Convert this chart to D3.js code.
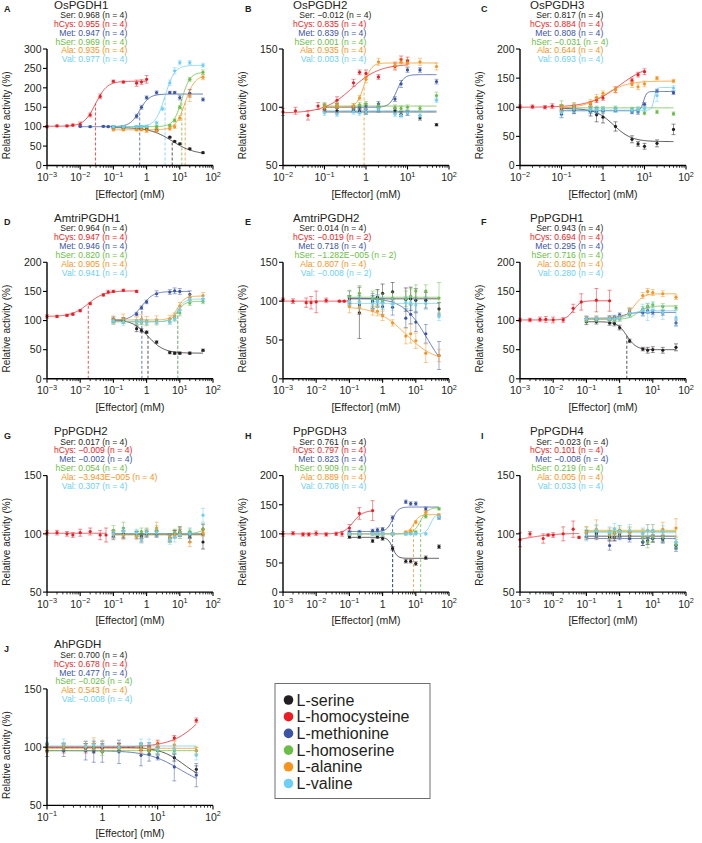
<!DOCTYPE html>
<html><head><meta charset="utf-8">
<script src="https://cdn.jsdelivr.net/npm/d3@7"></script>
<style>
body{margin:0;background:#fff}
svg{display:block}
text{font-family:"Liberation Sans",Arial,Helvetica,sans-serif}
</style>
</head><body>
<svg id="chart" width="702" height="843"></svg>
<script>
// ---------- shared labels ----------
const effectors = ["Ser","hCys","Met","hSer","Ala","Val"];
const legendLabels = ["L-serine","L-homocysteine","L-methionine","L-homoserine","L-alanine","L-valine"];
const colors = ["#231f20","#ed1c24","#3b54a5","#6abd45","#f7941d","#6dcff6"];
const panelLetters = ["A","B","C","D","E","F","G","H","I","J"];
const panelTitles = ["OsPGDH1","OsPGDH2","OsPGDH3","AmtriPGDH1","AmtriPGDH2","PpPGDH1","PpPGDH2","PpPGDH3","PpPGDH4","AhPGDH"];
const xDomains = [[1e-3,1e2],[1e-2,1e2],[1e-2,1e2],[1e-3,1e2],[1e-3,1e2],[1e-3,1e2],[1e-3,1e2],[1e-3,1e2],[1e-3,1e2],[1e-1,1e2]];
const yDomains = [[0,300],[50,150],[0,200],[0,200],[0,150],[0,200],[50,150],[0,200],[50,150],[50,150]];
const yTickValues = [[0,50,100,150,200,250,300],[50,100,150],[0,50,100,150,200],[0,50,100,150,200],[0,50,100,150],[0,50,100,150,200],[50,100,150],[0,50,100,150,200],[50,100,150],[50,100,150]];
const xLabel = "[Effector] (mM)";
const yLabel = "Relative activity (%)";

const concStd = [0.1,0.2,0.5,0.7,1,2,5,7,10,20,50];

// fit parameters: [plateau at low conc, plateau at high conc, EC50 (mM), Hill slope]

// ---------- A: OsPGDH1 ----------
const A_hCysConc = [0.001,0.002,0.004,0.006,0.01,0.02,0.04,0.1,0.2,0.5,0.7,1];
const A_MetConc = [0.01,0.02,0.05,0.07,0.1,0.2,0.5,0.7,1,2,5,7,10,20,50];
const A_ValConc = [0.1,0.2,0.5,0.7,1,2,3,5,7,10,20,50];
const A_conc = [concStd, A_hCysConc, A_MetConc, concStd, concStd, A_ValConc];
const A_y = [
  [98,98,97,97,96,91,73,62,56,43,33],
  [100,102,102,104,106,130,178,217,215,212,215,222],
  [101,100,101,100,100,100,127,150,175,188,188,188,175,186,170],
  [100,100,100,100,100,100,103,116,150,222,240],
  [92,92,92,92,90,90,95,100,122,180,227],
  [100,100,100,100,101,110,146,213,244,265,265,258]];
const A_err = [
  [3,3,3,3,3,3,2,2,2,2,2],
  [3,2,2,3,6,5,6,3,3,8,6,10],
  [2,2,2,2,2,2,5,5,4,4,3,3,6,10,4],
  [3,3,3,3,3,3,3,4,4,5,6],
  [3,3,3,3,5,4,4,5,6,15,6],
  [3,3,3,3,3,4,5,7,8,6,5,5]];
const A_fit = [[98,28,5.9,1.3],[101,217,0.029,2.5],[100,184,0.62,3],[100,240,11.5,3.5],[92,232,14.5,3],[100,258,3.6,3]];
const A_r = ["0.968","0.955","0.947","0.969","0.935","0.977"];
const A_n = [4,4,4,4,4,4];
const A_ec = [1,1,1,1,1,1];

// ---------- B: OsPGDH2 ----------
const B_hCysConc = [0.01,0.02,0.04,0.07,0.1,0.2,0.5,0.7,1,2,5,7,10];
const B_conc = [concStd, B_hCysConc, concStd, concStd, concStd, concStd];
const B_y = [
  [98,97,98,97,96,98,97,94,95,91,85],
  [96,97,93,101,100,106,121,130,129,126,135,141,140],
  [100,101,99,100,101,103,107,120,132,132,122],
  [102,102,101,102,103,101,100,99,100,99,110],
  [100,101,101,108,124,139,136,139,138,139,135],
  [95,94,96,95,96,98,94,93,95,93,106]];
const B_err = [
  [2,2,2,2,2,2,2,2,2,2,1],
  [3,3,4,3,3,3,3,2,3,2,3,3,3],
  [2,2,2,2,2,2,2,3,2,2,2],
  [2,2,2,2,2,2,2,2,2,2,3],
  [2,2,2,2,3,3,3,3,3,3,3],
  [2,2,2,2,2,2,2,2,2,2,2]];
const B_fit = [[96,96,1,1],[95,137,0.45,1.3],[100,128,5.5,5],[101,101,1,1],[100,138,0.9,5],[97,97,1,1]];
const B_r = ["\u22120.012","0.835","0.839","0.001","0.935","0.003"];
const B_n = [4,4,4,4,4,4];
const B_ec = [0,0,0,0,1,0];

// ---------- C: OsPGDH3 ----------
const C_hCysConc = [0.01,0.02,0.04,0.06,0.1,0.2,0.5,0.7,1,2,5,7,10];
const C_conc = [concStd, C_hCysConc, concStd, concStd, concStd, concStd];
const C_y = [
  [98,96,93,87,83,67,45,37,33,38,62],
  [101,101,100,102,100,101,106,112,116,130,146,156,161],
  [88,95,93,92,94,95,92,92,105,128,125],
  [103,100,98,97,97,98,97,96,90,92,89],
  [100,102,107,117,124,130,139,135,140,150,145],
  [91,97,96,96,96,96,95,96,98,120,133]];
const C_err = [
  [6,7,8,12,10,8,6,4,5,6,9],
  [3,3,3,4,3,3,4,4,4,5,4,4,5],
  [6,5,4,4,4,3,3,4,3,3,3],
  [8,7,6,5,4,4,3,3,3,3,3],
  [5,6,6,5,4,5,5,5,5,3,3],
  [8,7,5,5,5,5,4,5,4,10,4]];
const C_fit = [[98,41,1.8,2],[100,175,2.5,1.2],[94,127,9.5,12],[99,99,1,1],[98,145,1.1,1.6],[95,134,17,15]];
const C_r = ["0.817","0.884","0.808","\u22120.031","0.644","0.693"];
const C_n = [4,4,4,4,4,4];
const C_ec = [0,0,0,0,0,0];

// ---------- D: AmtriPGDH1 ----------
const D_hCysConc = [0.001,0.002,0.004,0.006,0.01,0.02,0.05,0.07,0.1,0.2,0.5];
const D_MetConc = [0.1,0.2,0.5,0.7,1,2,5,7,10,20];
const D_conc = [concStd, D_hCysConc, D_MetConc, concStd, concStd, concStd];
const D_y = [
  [102,102,86,83,80,63,45,44,44,44,49],
  [107,107,109,111,117,129,144,149,150,152,150],
  [100,101,111,122,132,146,149,151,150,145],
  [98,98,97,97,97,98,98,104,113,130,133],
  [101,103,100,102,99,101,103,107,125,140,143],
  [99,97,98,98,97,97,98,103,118,136,137]];
const D_err = [
  [4,3,5,3,2,2,2,2,2,2,2],
  [3,2,2,2,2,2,2,3,2,2,2],
  [3,3,3,3,3,5,4,5,5,6],
  [4,3,4,4,4,4,4,4,5,4,4],
  [7,8,6,8,8,7,6,6,6,5,5],
  [5,5,4,5,5,5,4,5,6,5,5]];
const D_fit = [[102,44,1.1,1.8],[107,151,0.0175,1.8],[100,150,0.72,2.5],[98,133,8.7,4],[101,142,8.6,4],[98,137,8.6,4]];
const D_r = ["0.964","0.947","0.946","0.820","0.905","0.941"];
const D_n = [4,4,4,4,4,4];
const D_ec = [1,1,1,1,1,1];

// ---------- E: AmtriPGDH2 ----------
const E_hCysConc = [0.001,0.002,0.005,0.007,0.01,0.02,0.05,0.07,0.1];
const E_conc = [concStd, E_hCysConc, concStd, concStd, concStd, concStd];
const E_y = [
  [101,85,99,105,110,112,102,103,101,101,90],
  [102,100,98,98,99,101,100,100,103],
  [105,95,100,100,93,92,78,83,73,58,30],
  [106,110,103,103,100,104,103,106,113,113,104],
  [93,92,88,87,81,72,55,58,49,33,30],
  [100,98,97,100,97,96,98,98,95,97,80]];
const E_err = [
  [6,33,8,10,12,12,15,15,15,10,8],
  [2,3,6,8,14,3,1,1,4],
  [8,12,10,8,10,10,12,12,12,12,18],
  [8,10,10,10,10,8,10,10,8,8,20],
  [8,8,6,6,6,4,10,12,10,12,8],
  [5,8,8,8,8,8,8,8,8,8,5]];
const E_fit = [[103,103,1,1],[100,100,1,1],[104,0,22,1.2],[105,105,1,1],[93,22,5,1],[97,97,1,1]];
const E_r = ["0.014","\u22120.019","0.718","\u22121.282E\u2212005","0.807","\u22120.008"];
const E_n = [4,2,4,2,4,2];
const E_ec = [0,0,0,0,0,0];

// ---------- F: PpPGDH1 ----------
const F_hCysConc = [0.001,0.002,0.004,0.006,0.01,0.02,0.04,0.07,0.2,0.5];
const F_conc = [concStd, F_hCysConc, concStd, concStd, concStd, concStd];
const F_y = [
  [98,98,96,95,88,65,51,49,50,49,54],
  [101,101,102,102,101,101,121,132,135,134],
  [104,103,105,106,110,117,113,117,114,113,96],
  [100,101,103,101,103,110,120,125,127,124,122],
  [104,104,104,103,105,118,143,150,148,146,140],
  [103,103,103,103,104,113,118,115,118,114,105]];
const F_err = [
  [5,4,4,4,4,3,3,5,5,5,6],
  [3,3,4,5,5,4,7,14,20,18],
  [3,3,3,3,3,4,5,5,4,4,5],
  [4,3,3,3,4,4,4,4,5,5,4],
  [4,4,4,4,4,4,5,5,5,5,4],
  [5,5,5,5,5,8,10,15,12,12,15]];
const F_fit = [[98,50,1.65,3],[101,134,0.04,4],[104,114,1.3,3],[102,125,3.5,3],[103,146,2.7,3],[103,117,2,3]];
const F_r = ["0.943","0.694","0.295","0.716","0.802","0.280"];
const F_n = [4,4,4,4,4,4];
const F_ec = [1,0,0,0,0,0];

// ---------- G: PpPGDH2 ----------
const G_hCysConc = [0.001,0.002,0.004,0.006,0.01,0.02,0.04,0.06];
const G_conc = [concStd, G_hCysConc, concStd, concStd, concStd, concStd];
const G_y = [
  [100,100,100,98,100,100,96,100,102,97,93],
  [101,101,100,99,101,102,99,99],
  [98,99,99,96,100,100,97,100,101,99,104],
  [103,105,100,102,102,103,96,101,102,102,104],
  [99,99,98,95,101,105,97,99,100,93,101],
  [100,102,101,95,101,101,95,97,99,100,116]];
const G_err = [
  [3,3,2,2,2,2,3,3,4,4,6],
  [2,2,2,2,3,3,4,6],
  [3,3,3,3,3,3,3,3,3,3,4],
  [4,5,3,3,3,4,3,3,4,3,5],
  [3,4,3,2,3,5,3,3,4,4,3],
  [3,3,3,3,3,3,4,4,3,4,6]];
const G_fit = [[100,100,1,1],[100.5,100.5,1,1],[99.5,99.5,1,1],[100,104,40,4],[99,99,1,1],[100,100,1,1]];
const G_r = ["0.017","\u22120.009","\u22120.002","0.054","\u22123.943E\u2212005","0.307"];
const G_n = [4,4,4,4,4,4];
const G_ec = [0,0,0,0,0,0];

// ---------- H: PpPGDH3 ----------
const H_hCysConc = [0.001,0.002,0.004,0.006,0.01,0.02,0.04,0.06,0.1,0.2,0.5];
const H_conc = [concStd, H_hCysConc, concStd, concStd, concStd, concStd];
const H_y = [
  [95,95,88,95,92,75,53,53,49,59,78],
  [100,101,99,99,101,99,100,100,110,135,140],
  [103,103,105,107,108,128,155,152,152,143,128],
  [100,100,100,100,100,100,100,101,103,130,143],
  [100,100,100,100,100,100,103,105,120,137,132],
  [100,100,100,100,100,100,100,100,100,100,129]];
const H_err = [
  [3,3,3,3,3,3,3,3,3,3,3],
  [4,3,3,3,4,3,3,4,6,10,17],
  [3,3,3,3,3,3,3,3,3,3,3],
  [2,2,2,2,2,2,2,2,2,3,2],
  [2,2,2,2,2,2,2,3,3,3,3],
  [2,2,2,2,2,2,2,2,2,2,3]];
const H_fit = [[94,58,2,6],[100,140,0.13,3],[104,146,2,5],[100,145,14,4],[100,133,8.5,5],[100,135,28,6]];
const H_r = ["0.761","0.797","0.823","0.909","0.889","0.708"];
const H_n = [4,4,4,4,4,4];
const H_ec = [1,0,1,1,1,0];

// ---------- I: PpPGDH4 ----------
const I_hCysConc = [0.001,0.002,0.005,0.007,0.01,0.02,0.04,0.06];
const I_conc = [concStd, I_hCysConc, concStd, concStd, concStd, concStd];
const I_y = [
  [100,100,97,97,100,98,93,94,96,96,90],
  [95,100,96,99,99,100,104,97],
  [98,98,90,97,98,96,93,94,96,95,88],
  [102,103,99,101,103,102,97,93,97,97,91],
  [101,104,100,100,101,101,100,103,103,104,105],
  [99,103,101,104,102,103,100,103,103,102,93]];
const I_err = [
  [3,3,3,3,3,3,3,3,3,3,3],
  [6,2,4,1,2,6,7,1],
  [3,3,4,3,3,3,3,3,3,3,3],
  [4,4,4,4,4,4,4,5,4,4,4],
  [5,8,5,5,4,4,4,5,5,6,8],
  [5,5,5,5,5,5,5,5,5,5,5]];
const I_fit = [[98,98,1,1],[92,100.5,0.0015,1],[96,96,1,1],[102,102,1,1],[103,103,1,1],[101,101,1,1]];
const I_r = ["\u22120.023","0.101","\u22120.008","0.219","0.005","0.033"];
const I_n = [4,4,4,4,4,4];
const I_ec = [0,0,0,0,0,0];

// ---------- J: AhPGDH ----------
const J_conc = [concStd, concStd, concStd, concStd, concStd, concStd];
const J_y = [
  [100,100,100,100,100,100,100,97,97,91,81],
  [99,99,99,99,99,100,100,101,103,108,123],
  [97,97,97,96,96,96,93,94,91,83,76],
  [99,100,100,100,96,99,101,97,97,97,97],
  [99,101,101,103,101,101,98,99,102,102,97],
  [104,103,101,102,101,100,103,103,98,98,93]];
const J_err = [
  [3,3,3,3,3,3,3,3,3,3,3],
  [3,4,4,4,3,3,3,3,3,2,2],
  [5,5,8,9,9,10,9,6,2,12,10],
  [3,3,3,3,3,3,3,3,3,3,3],
  [4,3,4,5,5,3,3,3,3,3,3],
  [4,4,4,4,4,4,4,4,4,4,4]];
const J_fit = [[100,70,30,2],[100,160,80,1.5],[97,65,25,1.5],[97,97,1,1],[99,99,1,1],[101,101,1,1]];
const J_r = ["0.700","0.678","0.477","\u22120.026","0.543","\u22120.008"];
const J_n = [4,4,4,4,4,4];
const J_ec = [0,0,0,0,0,0];

// ---------- assemble ----------
const panelData = [
  {conc:A_conc,y:A_y,err:A_err,fit:A_fit,r:A_r,n:A_n,ec:A_ec},
  {conc:B_conc,y:B_y,err:B_err,fit:B_fit,r:B_r,n:B_n,ec:B_ec},
  {conc:C_conc,y:C_y,err:C_err,fit:C_fit,r:C_r,n:C_n,ec:C_ec},
  {conc:D_conc,y:D_y,err:D_err,fit:D_fit,r:D_r,n:D_n,ec:D_ec},
  {conc:E_conc,y:E_y,err:E_err,fit:E_fit,r:E_r,n:E_n,ec:E_ec},
  {conc:F_conc,y:F_y,err:F_err,fit:F_fit,r:F_r,n:F_n,ec:F_ec},
  {conc:G_conc,y:G_y,err:G_err,fit:G_fit,r:G_r,n:G_n,ec:G_ec},
  {conc:H_conc,y:H_y,err:H_err,fit:H_fit,r:H_r,n:H_n,ec:H_ec},
  {conc:I_conc,y:I_y,err:I_err,fit:I_fit,r:I_r,n:I_n,ec:I_ec},
  {conc:J_conc,y:J_y,err:J_err,fit:J_fit,r:J_r,n:J_n,ec:J_ec}
];

// ---------- layout ----------
const svg = d3.select("#chart");
const colAxisX = [47, 283, 520];
const plotW = 166;
const plotH = 116.5;
const rowStep = 213.3;
const firstTop = 49;
const titleDX = [7, 10, 10];
const colonDX = [29, 32, 32];
const letterX = [4, 245, 481];
const textCol = "#231f20";

function hill(x, p){
  const [lo, hi, ec, h] = p;
  if (lo === hi) return lo;
  return lo + (hi - lo) / (1 + Math.pow(ec / x, h));
}

panelData.forEach((pd, i) => {
  const col = i < 9 ? i % 3 : 0;
  const row = Math.floor(i / 3);
  const x0 = colAxisX[col];
  const top = firstTop + rowStep * row;
  const bottom = top + plotH;
  const xs = d3.scaleLog().domain(xDomains[i]).range([x0, x0 + plotW]);
  const ys = d3.scaleLinear().domain(yDomains[i]).range([bottom, top]);
  const g = svg.append("g");

  // panel letter & title
  g.append("text").attr("x", letterX[col]).attr("y", top - 37)
    .attr("font-size", 9).attr("font-weight", "bold").attr("fill", textCol).text(panelLetters[i]);
  g.append("text").attr("x", x0 + titleDX[col]).attr("y", top - 40.5)
    .attr("font-size", 11.5).attr("fill", textCol).text(panelTitles[i]);

  // annotation lines
  const cx = x0 + colonDX[col];
  effectors.forEach((ef, k) => {
    const yy = top - 31 + 8.85 * k;
    g.append("text").attr("x", cx).attr("y", yy).attr("text-anchor", "end")
      .attr("font-size", 8.6).attr("fill", colors[k]).text(ef + ":");
    g.append("text").attr("x", cx + 2.3).attr("y", yy)
      .attr("font-size", 8.6).attr("fill", colors[k]).text(pd.r[k] + " (n = " + pd.n[k] + ")");
  });

  // EC50 dashed lines
  effectors.forEach((ef, k) => {
    if (!pd.ec[k]) return;
    const f = pd.fit[k];
    g.append("line").attr("x1", xs(f[2])).attr("x2", xs(f[2]))
      .attr("y1", bottom).attr("y2", ys(hill(f[2], f)))
      .attr("stroke", colors[k]).attr("stroke-width", 0.9)
      .attr("stroke-dasharray", "3,2").attr("opacity", 0.85);
  });

  // fitted curves
  const line = d3.line().x(d => xs(d[0])).y(d => ys(d[1]));
  effectors.forEach((ef, k) => {
    const c = pd.conc[k];
    const lo = Math.log10(d3.min(c)), hi = Math.log10(d3.max(c));
    const pts = d3.range(0, 121).map(j => {
      const x = Math.pow(10, lo + (hi - lo) * j / 120);
      return [x, hill(x, pd.fit[k])];
    });
    g.append("path").attr("d", line(pts)).attr("fill", "none")
      .attr("stroke", colors[k]).attr("stroke-width", 0.9).attr("opacity", 0.85);
  });

  // error bars and points
  effectors.forEach((ef, k) => {
    const c = pd.conc[k];
    const gs = g.append("g");
    c.forEach((xv, j) => {
      const yv = pd.y[k][j], e = pd.err[k][j];
      const px = xs(xv);
      gs.append("line").attr("x1", px).attr("x2", px)
        .attr("y1", ys(yv - e)).attr("y2", ys(yv + e))
        .attr("stroke", colors[k]).attr("stroke-width", 0.8).attr("opacity", 0.6);
      [yv - e, yv + e].forEach(v => {
        gs.append("line").attr("x1", px - 2).attr("x2", px + 2)
          .attr("y1", ys(v)).attr("y2", ys(v))
          .attr("stroke", colors[k]).attr("stroke-width", 0.8).attr("opacity", 0.6);
      });
      gs.append("circle").attr("cx", px).attr("cy", ys(yv)).attr("r", 1.6)
        .attr("fill", colors[k]);
    });
  });

  // axes
  const [dlo, dhi] = xDomains[i].map(Math.log10);
  const majors = d3.range(dlo, dhi + 1).map(e => Math.pow(10, e));
  const minors = [];
  for (let e = dlo; e < dhi; e++) for (let m = 2; m <= 9; m++) minors.push(m * Math.pow(10, e));
  const ax = g.append("g");
  ax.append("line").attr("x1", x0).attr("x2", x0 + plotW).attr("y1", bottom).attr("y2", bottom)
    .attr("stroke", "#000").attr("stroke-width", 1.4);
  ax.append("line").attr("x1", x0).attr("x2", x0).attr("y1", top).attr("y2", bottom)
    .attr("stroke", "#000").attr("stroke-width", 1.4);
  majors.forEach(v => {
    ax.append("line").attr("x1", xs(v)).attr("x2", xs(v)).attr("y1", bottom).attr("y2", bottom + 4)
      .attr("stroke", "#000").attr("stroke-width", 1.1);
    const e = Math.round(Math.log10(v));
    const t = ax.append("text").attr("x", xs(v)).attr("y", bottom + 15.5)
      .attr("text-anchor", "middle").attr("font-size", 10.5).attr("fill", textCol);
    if (e === 0) t.text("1");
    else {
      t.append("tspan").text("10");
      t.append("tspan").attr("dy", -4.5).attr("font-size", 7.3).text(e < 0 ? "\u2212" + (-e) : String(e));
    }
  });
  minors.forEach(v => {
    ax.append("line").attr("x1", xs(v)).attr("x2", xs(v)).attr("y1", bottom).attr("y2", bottom + 2.3)
      .attr("stroke", "#000").attr("stroke-width", 0.8);
  });
  yTickValues[i].forEach(v => {
    ax.append("line").attr("x1", x0 - 4).attr("x2", x0).attr("y1", ys(v)).attr("y2", ys(v))
      .attr("stroke", "#000").attr("stroke-width", 1.1);
    ax.append("text").attr("x", x0 - 5.5).attr("y", ys(v) + 3.8).attr("text-anchor", "end")
      .attr("font-size", 10.5).attr("fill", textCol).text(v);
  });
  ax.append("text").attr("x", x0 + plotW / 2).attr("y", bottom + 32)
    .attr("text-anchor", "middle").attr("font-size", 10.5).attr("fill", textCol).text(xLabel);
  ax.append("text").attr("transform", `translate(${x0 - 37},${(top + bottom) / 2 + 8}) rotate(-90)`)
    .attr("text-anchor", "middle").attr("font-size", 10).attr("fill", textCol).text(yLabel);
});

// ---------- legend ----------
const lg = svg.append("g");
lg.append("rect").attr("x", 275).attr("y", 683.5).attr("width", 155).attr("height", 115)
  .attr("fill", "#fff").attr("stroke", "#6d6e71").attr("stroke-width", 1);
legendLabels.forEach((lab, k) => {
  const yy = 700 + 16.7 * k;
  lg.append("circle").attr("cx", 288.5).attr("cy", yy).attr("r", 4.8).attr("fill", colors[k]);
  lg.append("text").attr("x", 296.5).attr("y", yy + 5.5).attr("font-size", 16).attr("fill", textCol).text(lab);
});
</script>
</body></html>
